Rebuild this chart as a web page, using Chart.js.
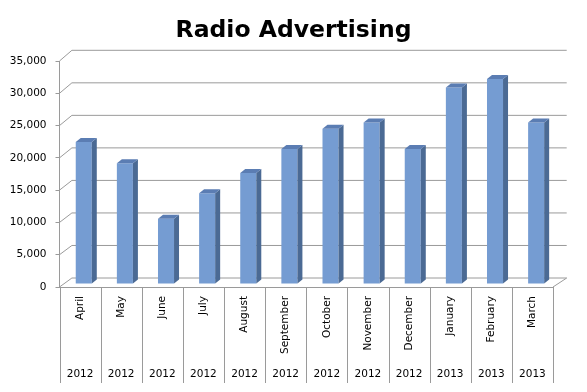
<!DOCTYPE html>
<html>
<head>
<meta charset="utf-8">
<script src="https://cdn.jsdelivr.net/npm/chart.js@4.4.1/dist/chart.umd.min.js"></script>
<style>
  html, body { margin: 0; padding: 0; background: #fff; }
</style>
</head>
<body>
<canvas id="radio" width="587" height="392"></canvas>
<script>
// chart data
const months = ['April', 'May', 'June', 'July', 'August', 'September', 'October',
                'November', 'December', 'January', 'February', 'March'];
const years = ['2012', '2012', '2012', '2012', '2012', '2012', '2012',
               '2012', '2012', '2013', '2013', '2013'];
const spend = [22000, 18700, 10100, 14050, 17200, 20900, 24050,
               25000, 20900, 30450, 31750, 25000];

const FONT = 'DejaVu Sans, Verdana, sans-serif';
const GRID = '#9a9a9a';

// fake 3D: back wall offset and bar depth
const wall = { dx: 12.4, dxRight: 13.7, dyBottom: -9, dyTop: -10.7 };
const bar3d = { shiftX: 3.7, shiftY: -3, dx: 5, dy: -4, side: '#4b6a94', top: '#5b7db3' };

const wallPlugin = {
    id: 'wall',
    beforeDatasetsDraw(chart) {
        const { ctx, chartArea: a, scales: { x, y } } = chart;
        ctx.save();
        ctx.strokeStyle = GRID;
        ctx.lineWidth = 1;
        y.ticks.forEach(t => {
            const fy = y.getPixelForValue(t.value);
            const k = t.value / y.max;
            const dy = wall.dyBottom + (wall.dyTop - wall.dyBottom) * k;
            ctx.beginPath();
            ctx.moveTo(a.left, fy);
            ctx.lineTo(a.left + wall.dx, fy + dy);
            ctx.lineTo(a.right + wall.dxRight, fy + dy);
            ctx.stroke();
        });
        // right edge of the floor
        ctx.beginPath();
        ctx.moveTo(a.right, a.bottom);
        ctx.lineTo(a.right + wall.dxRight, a.bottom + wall.dyBottom);
        ctx.stroke();

        // category dividers below the axis
        const step = (a.right - a.left) / months.length;
        for (let i = 0; i <= months.length; i++) {
            const px = Math.round(x.getPixelForValue(0) - step / 2 + i * step) + 0.5;
            ctx.beginPath();
            ctx.moveTo(px, a.bottom);
            ctx.lineTo(px, a.bottom + 96);
            ctx.stroke();
        }
        ctx.restore();
    },
    beforeDatasetDraw(chart) {
        chart.ctx.save();
        chart.ctx.translate(bar3d.shiftX, bar3d.shiftY);
    },
    afterDatasetDraw(chart, args) {
        const ctx = chart.ctx;
        args.meta.data.forEach(bar => {
            const { x, y, base, width } = bar.getProps(['x', 'y', 'base', 'width'], true);
            const l = x - width / 2, r = x + width / 2;
            // side face
            ctx.fillStyle = bar3d.side;
            ctx.beginPath();
            ctx.moveTo(r, base);
            ctx.lineTo(r + bar3d.dx, base + bar3d.dy);
            ctx.lineTo(r + bar3d.dx, y + bar3d.dy);
            ctx.lineTo(r, y);
            ctx.closePath();
            ctx.fill();
            // top face
            ctx.fillStyle = bar3d.top;
            ctx.beginPath();
            ctx.moveTo(l, y);
            ctx.lineTo(l + bar3d.dx, y + bar3d.dy);
            ctx.lineTo(r + bar3d.dx, y + bar3d.dy);
            ctx.lineTo(r, y);
            ctx.closePath();
            ctx.fill();
        });
        ctx.restore();
    }
};

new Chart(document.getElementById('radio').getContext('2d'), {
    type: 'bar',
    data: {
        labels: months,
        datasets: [{
            data: spend,
            backgroundColor: '#759cd2',
            borderWidth: 0,
            barPercentage: 0.39,
            categoryPercentage: 1,
            clip: false
        }]
    },
    options: {
        responsive: false,
        animation: false,
        devicePixelRatio: 1,
        layout: { padding: 0 },
        scales: {
            x: {
                offset: true,
                grid: { display: false, drawTicks: false, offset: true },
                border: { display: true, color: GRID },
                ticks: {
                    autoSkip: false, minRotation: 90, maxRotation: 90, padding: 9,
                    color: '#000', font: { family: FONT, size: 10.5 }
                },
                afterFit(s) { s.height = 75; }
            },
            xYear: {
                type: 'category',
                labels: years,
                position: 'bottom',
                offset: true,
                weight: 1,
                grid: { display: false, drawTicks: false },
                border: { display: false },
                ticks: {
                    autoSkip: false, minRotation: 0, maxRotation: 0, padding: 6,
                    color: '#000', font: { family: FONT, size: 10.5 }
                },
                afterFit(s) { s.height = 30; }
            },
            y: {
                min: 0,
                max: 35000,
                ticks: {
                    stepSize: 5000, padding: 9, color: '#000',
                    font: { family: FONT, size: 10.5 },
                    callback: v => v.toLocaleString('en-US')
                },
                grid: { drawOnChartArea: false, tickLength: 4, color: GRID },
                border: { color: GRID },
                afterFit(s) { s.width = 59.5; }
            },
            // empty axis that only reserves room on the right for the back wall
            yRight: {
                position: 'right',
                min: 0,
                max: 1,
                ticks: { display: false },
                grid: { display: false, drawTicks: false },
                border: { display: false },
                afterFit(s) { s.width = 34; }
            }
        },
        plugins: {
            legend: { display: false },
            tooltip: { enabled: false },
            title: {
                display: true,
                text: 'Radio Advertising',
                color: '#000',
                font: { family: FONT, size: 23.5, weight: 'bold' },
                padding: { top: 16.5, bottom: 16.3 }
            }
        }
    },
    plugins: [wallPlugin]
});
</script>
</body>
</html>
